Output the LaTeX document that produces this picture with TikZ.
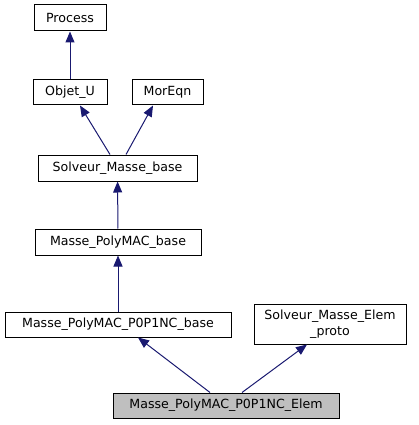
\documentclass[tikz,border=0pt]{standalone}
\usepackage{fontspec}
\setmainfont{DejaVu Sans}
\usetikzlibrary{arrows.meta}

\definecolor{edgeblue}{HTML}{191970}
\tikzset{
  classbox/.style={draw=black, line width=1pt, fill=white, inner sep=0pt,
    minimum height=25pt, align=center, font=\fontsize{12.6}{15.5}\selectfont},
  inherit/.style={draw=edgeblue, line width=1pt,
    -{Triangle[length=11pt,width=9pt,fill=edgeblue]}}
}

\begin{document}
\begin{tikzpicture}[x=1pt, y=-1pt]
  \useasboundingbox (0,0) rectangle (419,425);

  \node[classbox, minimum width=72pt, minimum height=26pt] (process) at (70, 18) {Process};
  \node[classbox, minimum width=74pt] (objet)   at (70, 92.5)    {Objet\_U};
  \node[classbox, minimum width=71pt] (moreqn)  at (167.5, 92.5) {MorEqn};
  \node[classbox, minimum width=159pt, minimum height=26pt] (solveur) at (117.5, 168) {Solveur\_Masse\_base};
  \node[classbox, minimum width=166pt, minimum height=26pt] (polymac) at (118, 242) {Masse\_PolyMAC\_base};
  \node[classbox, minimum width=226pt] (ponc)    at (118, 324.5) {Masse\_PolyMAC\_P0P1NC\_base};
  \node[classbox, minimum width=152pt, minimum height=40pt] (proto) at (330, 324) {Solveur\_Masse\_Elem\\\_proto};
  \node[classbox, minimum width=226pt, fill=black!25] (elem) at (226, 405.5) {Masse\_PolyMAC\_P0P1NC\_Elem};

  \draw[inherit] (objet) -- (process);
  \draw[inherit] ([xshift=-7.5pt]solveur.north) -- ([xshift=10pt]objet.south);
  \draw[inherit] ([xshift=8.5pt]solveur.north) -- ([xshift=-14.5pt]moreqn.south);
  \draw[inherit] (polymac) -- (solveur);
  \draw[inherit] (ponc) -- (polymac);
  \draw[inherit] ([xshift=-16pt]elem.north) -- ([xshift=20pt]ponc.south);
  \draw[inherit] ([xshift=16pt]elem.north) -- ([xshift=-23pt]proto.south);
\end{tikzpicture}
\end{document}
